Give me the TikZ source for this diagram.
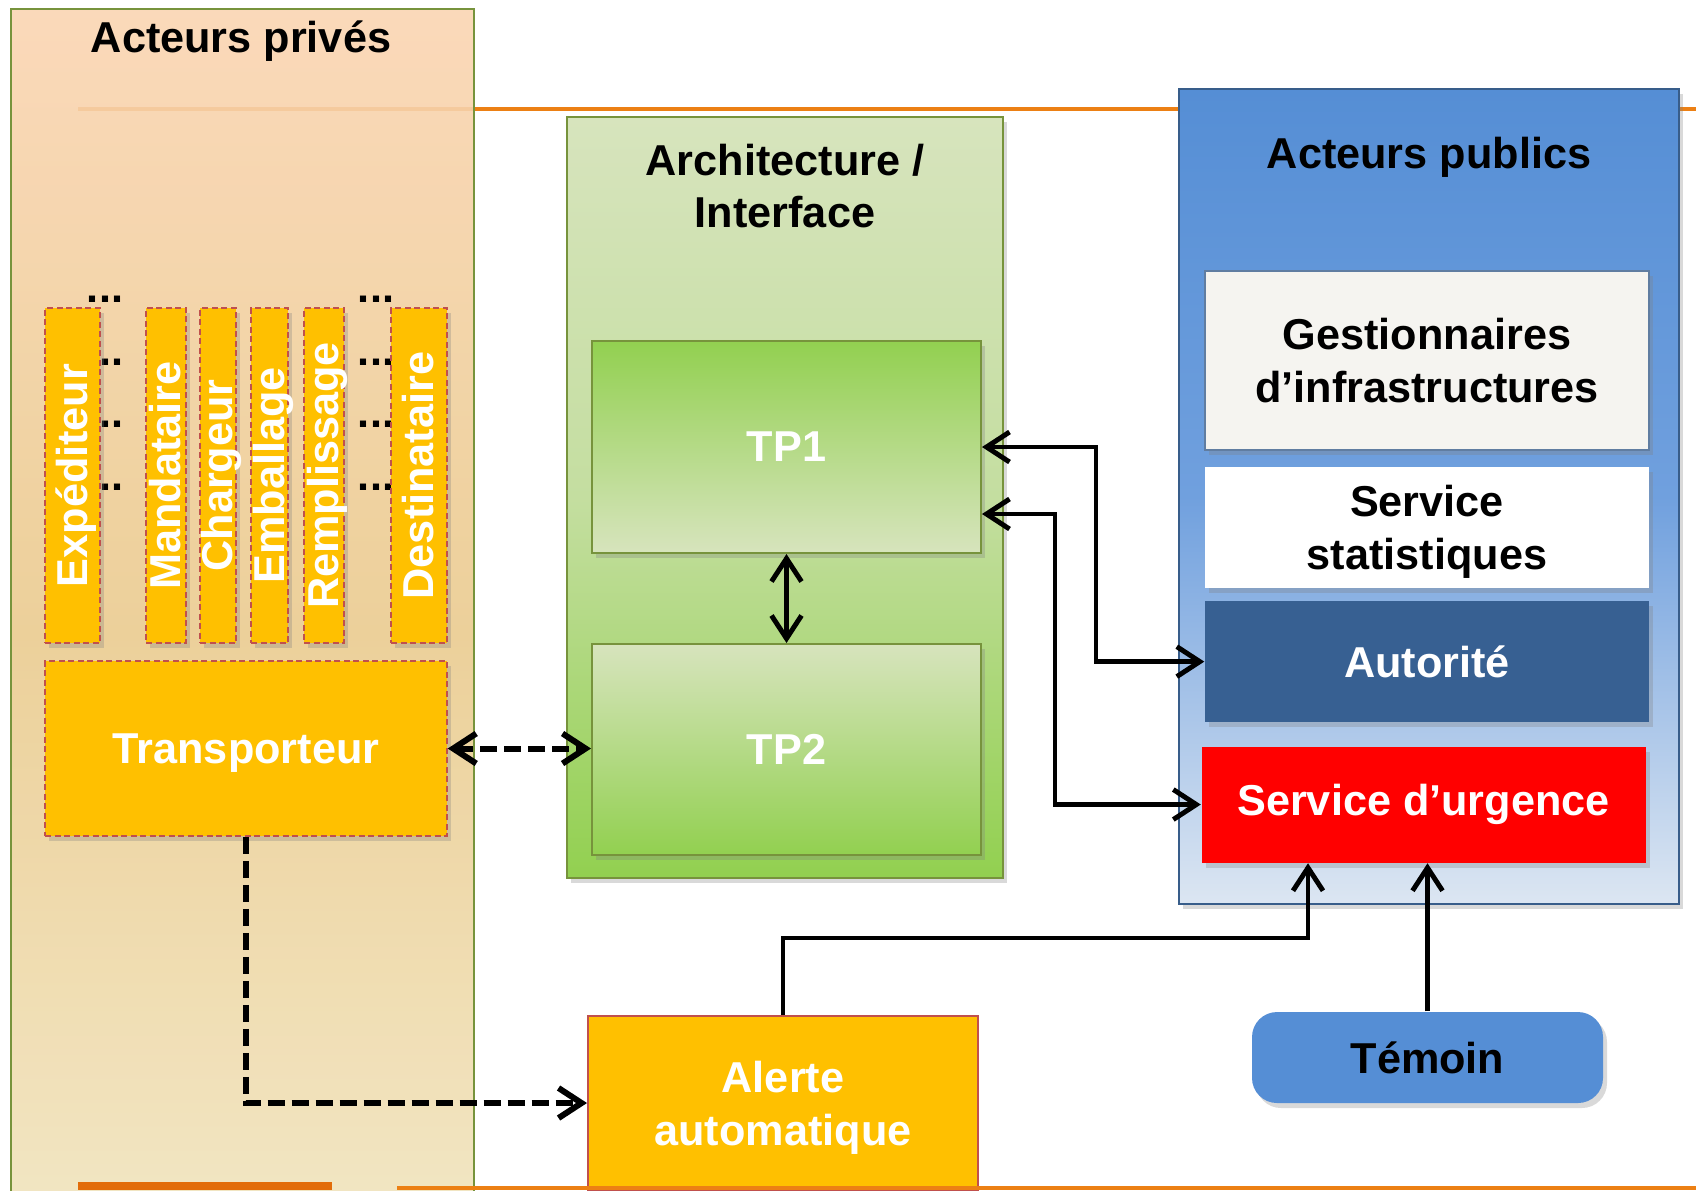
\documentclass[tikz,border=0pt]{standalone}
\usepackage{fontspec}
\setmainfont{Liberation Sans}
\usepackage{graphicx}
\usetikzlibrary{positioning, calc, shadows, arrows.meta}

\definecolor{peche}{RGB}{250,213,178}
\definecolor{sable}{RGB}{234,203,143}
\definecolor{creme}{RGB}{241,229,192}
\definecolor{vert}{RGB}{146,208,80}
\definecolor{vertmoyen}{RGB}{196,222,160}
\definecolor{vertpale}{RGB}{215,228,189}
\definecolor{olive}{RGB}{119,147,60}
\definecolor{jaune}{RGB}{255,192,0}
\definecolor{brique}{RGB}{192,80,77}
\definecolor{bleu}{RGB}{85,142,213}
\definecolor{bleumoyen}{RGB}{112,160,222}
\definecolor{bleupale}{RGB}{220,230,242}
\definecolor{bleufonce}{RGB}{55,96,146}
\definecolor{acier}{RGB}{56,93,138}
\definecolor{blanccasse}{RGB}{245,244,240}
\definecolor{orangeun}{RGB}{236,128,20}
\definecolor{orangedeux}{RGB}{226,108,10}

\newcommand{\diagfont}{\bfseries\fontsize{12.3}{15}\selectfont}
\newcommand{\vlabel}[1]{\makebox[0pt]{\rotatebox{90}{\vphantom{Ég}#1}}}

\tikzstyle{ombre} = [drop shadow={shadow xshift=0.4mm, shadow yshift=-0.5mm, opacity=0.3}]
\tikzstyle{titre} = [font=\diagfont, text=black, align=center]
\tikzstyle{actor} = [rectangle, inner sep=0pt, fill=jaune, draw=brique, line width=0.15mm, dash pattern=on 0.6mm off 0.35mm, text=white, font=\diagfont, ombre]
\tikzstyle{tpbox} = [rectangle, inner sep=0pt, draw=olive, line width=0.2mm, text=white, font=\diagfont, ombre]
\tikzstyle{pubbox} = [rectangle, inner sep=0pt, minimum width=44.4mm, font=\diagfont, ombre]
\tikzstyle{arrow} = [line width=1.4pt, <->, >={Straight Barb[length=2.3mm, width=3mm]}]
\tikzstyle{dasharrow} = [arrow, line width=1.7pt, dash pattern=on 1.7mm off 0.7mm]

\begin{document}
\begin{tikzpicture}[x=0.1mm, y=-0.1mm]
\useasboundingbox (0,0) rectangle (1696,1190);
\clip (0,0) rectangle (1696,1190);

% Ligne orange du haut
\draw [line width=0.4mm, orangeun] (78,109) -- (1696,109);

% Acteurs privés
\node (prive) [rectangle, draw=olive, line width=0.2mm, top color=peche, bottom color=creme, middle color=sable, fill opacity=0.9, minimum width=46.3mm, minimum height=125mm, anchor=north west, inner sep=0pt] at (10,8) {};
\node (privetitre) [titre, anchor=base] at (241,52) {Acteurs privés};

\foreach \y in {299,362,424,487} {
  \node (pg\y) [font=\diagfont] at (105,\y) {...};
  \node (pd\y) [font=\diagfont] at (376,\y) {...};
}

\node (exp) [actor, minimum width=5.5mm, minimum height=33.5mm] at (72.5,475.5) {\vlabel{Expéditeur}};
\node (mand) [actor, minimum width=4mm, minimum height=33.5mm, right=4.45mm of exp] {\vlabel{Mandataire}};
\node (charg) [actor, minimum width=3.6mm, minimum height=33.5mm, right=1.25mm of mand] {\vlabel{Chargeur}};
\node (emb) [actor, minimum width=3.7mm, minimum height=33.5mm, right=1.35mm of charg] {\vlabel{Emballage}};
\node (remp) [actor, minimum width=4mm, minimum height=33.5mm, right=1.45mm of emb] {\vlabel{Remplissage}};
\node (dest) [actor, minimum width=5.6mm, minimum height=33.5mm, right=4.55mm of remp] {\vlabel{Destinataire}};

\node (trans) [actor, text depth=0pt, minimum width=40.2mm, minimum height=17.5mm] at (246,748.5) {Transporteur};

% Architecture / Interface
\node (archi) [rectangle, draw=olive, line width=0.2mm, top color=vertpale, bottom color=vert, middle color=vertmoyen, minimum width=43.6mm, minimum height=76.1mm, inner sep=0pt, ombre] at (785,497.5) {};
\node (archititre) [titre] at (785,186) {Architecture /\\Interface};
\node (tp1) [tpbox, top color=vert, bottom color=vertpale, minimum width=38.9mm, minimum height=21.2mm] at (786.5,447) {TP1};
\node (tp2) [tpbox, top color=vertpale, bottom color=vert, minimum width=38.9mm, minimum height=21.1mm, below=8.9mm of tp1] {TP2};

% Acteurs publics
\node (public) [rectangle, draw=acier, line width=0.2mm, top color=bleu, bottom color=bleupale, middle color=bleumoyen, minimum width=50mm, minimum height=81.5mm, inner sep=0pt, ombre] at (1429,496.5) {};
\node (publictitre) [titre, anchor=base] at (1429,168) {Acteurs publics};
\node (gest) [pubbox, fill=blanccasse, draw=acier!80, line width=0.2mm, minimum height=17.9mm, align=center] at (1427,360.5) {Gestionnaires\\d’infrastructures};
\node (stat) [pubbox, fill=white, text depth=0pt, minimum height=12.1mm, align=center, below=1.5mm of gest] {Service\\statistiques};
\node (aut) [pubbox, fill=bleufonce, text=white, minimum height=12.1mm, below=1.2mm of stat] {Autorité};
\node (urg) [pubbox, fill=red, text=white, minimum height=11.6mm, below=2.3mm of aut, xshift=-0.35mm] {Service d’urgence};

% Alerte et témoin
\node (alerte) [rectangle, fill=jaune, draw=brique, line width=0.2mm, text=white, font=\diagfont, align=center, text depth=0pt, minimum width=39mm, minimum height=17.4mm, inner sep=0pt] at (783,1103) {Alerte\\automatique};
\node (temoin) [rectangle, rounded corners=2.5mm, fill=bleu, text=black, font=\diagfont, minimum width=35.1mm, minimum height=9.1mm, inner sep=0pt, ombre] at (1427.5,1057.5) {Témoin};

% Connexions
\coordinate (k1) at (1096,447);
\coordinate (k2) at (1055,514);
\coordinate (k3) at (1308,938);
\draw [arrow] (tp1) -- (tp2);
\draw [dasharrow] (trans.east) -- (trans.east -| tp2.west);
\draw [dasharrow, ->] (trans.south) |- (alerte.west);
\draw [arrow] (tp1.east |- k1) -- (k1) |- (aut.west);
\draw [arrow] (tp1.east |- k2) -- (k2) |- (urg.west);
\draw [arrow, ->] (alerte.north) |- (k3) -- (k3 |- urg.south);
\draw [arrow, ->] (temoin.north) -- (temoin.north |- urg.south);

% Lignes orange du bas
\draw [line width=0.8mm, orangedeux] (78,1186) -- (332,1186);
\draw [line width=0.4mm, orangeun] (397,1188) -- (1696,1188);

\end{tikzpicture}
\end{document}
